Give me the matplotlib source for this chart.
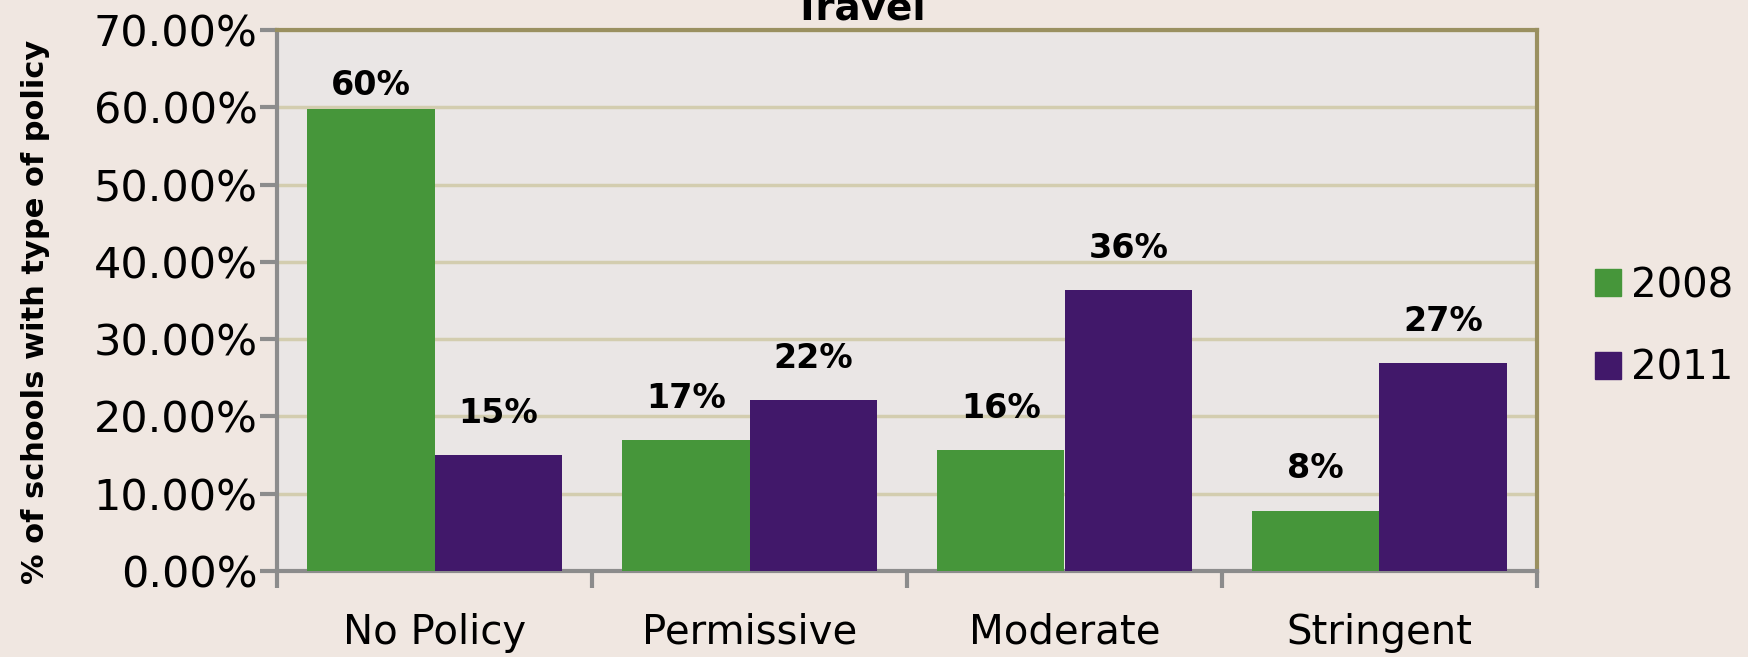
import matplotlib
matplotlib.use("Agg")
import matplotlib.pyplot as plt
from matplotlib.patches import Patch
import numpy as np

# chart data
categories = ["No Policy", "Permissive", "Moderate", "Stringent"]
years = ["2008", "2011"]
values_2008 = [59.8, 16.9, 15.6, 7.8]
values_2011 = [15.0, 22.1, 36.3, 26.9]
y_ticks = [0, 10, 20, 30, 40, 50, 60, 70]

green = "#46963A"
purple = "#41186A"
fig_bg = "#F0E7E1"
ax_bg = "#EAE6E5"

fig = plt.figure(figsize=(17.49, 6.57), dpi=100)
fig.patch.set_facecolor(fig_bg)
ax = fig.add_axes([277 / 1749, 86 / 657, 1260 / 1749, 541 / 657])
ax.set_facecolor(ax_bg)

x = np.arange(len(categories))
w = 0.405
bars_a = ax.bar(x - w / 2, values_2008, w, color=green, label=years[0], zorder=3)
bars_b = ax.bar(x + w / 2, values_2011, w, color=purple, label=years[1], zorder=3)

# data labels above bars (kept inside the plot area like Excel does)
for bars in (bars_a, bars_b):
    for b in bars:
        v = b.get_height()
        ax.text(b.get_x() + b.get_width() / 2, min(v + 5.4, 62.8), f"{v:.0f}%",
                ha="center", va="center", fontsize=24, fontweight="bold",
                color="black", zorder=4)

ax.set_xlim(-0.5, len(categories) - 0.5)
ax.set_ylim(0, 70)
ax.set_yticks(y_ticks)
ax.set_yticklabels([f"{t:.2f}%" for t in y_ticks], fontsize=31)
ax.set_xticks(x)
ax.set_xticklabels(categories, fontsize=29)
ax.set_xticks(np.arange(len(categories) + 1) - 0.5, minor=True)
ax.tick_params(axis="x", which="major", length=0, pad=30)
ax.tick_params(axis="x", which="minor", length=12, width=3, color="#8C8C8C")
ax.tick_params(axis="y", length=12, width=3, color="#8C8C8C", pad=2)

ax.grid(axis="y", color="#D3CDAF", linewidth=2.5, zorder=1)
ax.set_axisbelow(True)

for side in ("top", "right"):
    ax.spines[side].set_color("#9A9060")
    ax.spines[side].set_linewidth(3)
for side in ("left", "bottom"):
    ax.spines[side].set_color("#8C8C8C")
    ax.spines[side].set_linewidth(3)

ax.set_ylabel("% of schools with type of policy", fontsize=22, fontweight="bold")
ax.yaxis.set_label_coords(-0.18, 0.479)

fig.text(860 / 1749, 1 - 20 / 657, "Travel", ha="center", va="baseline",
         fontsize=28, fontweight="bold")

handles = [Patch(color=green, label=years[0]), Patch(color=purple, label=years[1])]
fig.legend(handles=handles, loc="center left", bbox_to_anchor=(1595 / 1749, 0.502),
           frameon=False, fontsize=29, handlelength=0.65, handleheight=0.65,
           handletextpad=0.25, labelspacing=1.05, borderpad=0, borderaxespad=0)

fig.savefig("out.png", dpi=100, facecolor=fig_bg)
